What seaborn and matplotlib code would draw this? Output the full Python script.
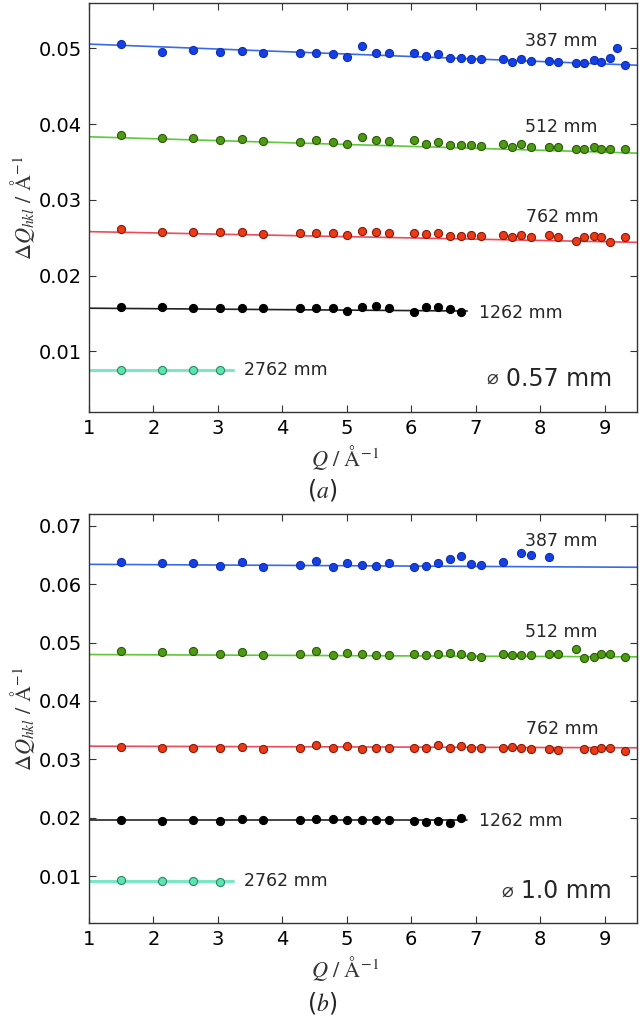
import matplotlib
matplotlib.use("Agg")
import matplotlib.pyplot as plt
import numpy as np
import pandas as pd
import seaborn as sns

# reflection positions, Q in 1/Angstrom
q_all = [1.50, 2.14, 2.62, 3.03, 3.38, 3.70, 4.28, 4.53, 4.79, 5.01, 5.24, 5.45, 5.66,
         6.05, 6.23, 6.42, 6.60, 6.77, 6.93, 7.09, 7.42, 7.57, 7.71, 7.86, 8.14, 8.28,
         8.56, 8.68, 8.83, 8.95, 9.08, 9.20, 9.32]
nan = np.nan
distances = ["387 mm", "512 mm", "762 mm", "1262 mm", "2762 mm"]

# (a) pinhole 0.57 mm
dq_a_387 = [0.05062, 0.04956, 0.04978, 0.04956, 0.04969, 0.04943, 0.04943, 0.04943, 0.04925,
            0.04881, 0.05031, 0.04943, 0.04943, 0.04943, 0.04903, 0.04925, 0.04868, 0.04868,
            0.04859, 0.04859, 0.04859, 0.04824, 0.04859, 0.04837, 0.04837, 0.04815, 0.04802,
            0.04802, 0.04846, 0.04824, 0.04868, 0.05009, 0.04780]
dq_a_512 = [0.03855, 0.03811, 0.03811, 0.03789, 0.03802, 0.03771, 0.03767, 0.03789, 0.03767,
            0.03744, 0.03833, 0.03789, 0.03780, 0.03789, 0.03736, 0.03758, 0.03722, 0.03722,
            0.03722, 0.03714, 0.03736, 0.03692, 0.03736, 0.03700, 0.03700, 0.03700, 0.03670,
            0.03678, 0.03700, 0.03678, 0.03670, nan, 0.03670]
dq_a_762 = [0.02617, 0.02573, 0.02573, 0.02581, 0.02573, 0.02555, 0.02564, 0.02564, 0.02564,
            0.02542, 0.02595, 0.02581, 0.02564, 0.02564, 0.02555, 0.02564, 0.02529, 0.02529,
            0.02542, 0.02520, 0.02537, 0.02511, 0.02542, 0.02507, 0.02533, 0.02507, 0.02454,
            0.02511, 0.02520, 0.02511, 0.02445, nan, 0.02511]
dq_a_1262 = [0.01581, 0.01581, 0.01568, 0.01568, 0.01568, 0.01568, 0.01568, 0.01568, 0.01568,
             0.01537, 0.01590, 0.01599, 0.01568, 0.01524, 0.01590, 0.01590, 0.01559, 0.01524]
dq_a_2762 = [0.00760, 0.00760, 0.00750, 0.00755]

fit_a_start = [0.05057, 0.03833, 0.02581, 0.01570, 0.00759]
fit_a_end = [0.04775, 0.03615, 0.02438, 0.01533, 0.00759]

label_a_y = [0.05100, 0.03965, 0.02771, 0.01510, 0.00754]

# (b) pinhole 1.0 mm
dq_b_387 = [0.06384, 0.06367, 0.06355, 0.06315, 0.06384, 0.06287, 0.06327, 0.06395, 0.06287,
            0.06355, 0.06327, 0.06315, 0.06355, 0.06298, 0.06315, 0.06355, 0.06430, 0.06487,
            0.06344, 0.06327, 0.06384, nan, 0.06527, 0.06499, 0.06470]
dq_b_512 = [0.04851, 0.04840, 0.04851, 0.04799, 0.04840, 0.04782, 0.04799, 0.04851, 0.04782,
            0.04828, 0.04811, 0.04782, 0.04782, 0.04811, 0.04782, 0.04799, 0.04828, 0.04811,
            0.04771, 0.04754, 0.04811, 0.04782, 0.04782, 0.04782, 0.04799, 0.04811, 0.04885,
            0.04742, 0.04754, 0.04799, 0.04799, nan, 0.04754]
dq_b_762 = [0.03215, 0.03198, 0.03198, 0.03203, 0.03215, 0.03175, 0.03198, 0.03243, 0.03198,
            0.03232, 0.03175, 0.03203, 0.03198, 0.03203, 0.03203, 0.03243, 0.03198, 0.03232,
            0.03203, 0.03203, 0.03203, 0.03215, 0.03203, 0.03175, 0.03175, 0.03158, nan,
            0.03175, 0.03158, 0.03186, 0.03198, nan, 0.03147]
dq_b_1262 = [0.01966, 0.01938, 0.01960, 0.01938, 0.01977, 0.01966, 0.01960, 0.01977, 0.01977,
             0.01966, 0.01960, 0.01955, 0.01960, 0.01938, 0.01921, 0.01949, 0.01910, 0.01994]
dq_b_2762 = [0.00930, 0.00920, 0.00924, 0.00895]

fit_b_start = [0.06338, 0.04794, 0.03226, 0.01960, 0.00924]
fit_b_end = [0.06287, 0.04754, 0.03198, 0.01960, 0.00924]

label_b_y = [0.06742, 0.05172, 0.03514, 0.01950, 0.00913]

fit_q_end = [9.6, 9.6, 9.6, 6.87, 3.23]
label_q = [7.77, 7.77, 7.78, 7.05, 3.40]

face_colors = ["#1440e6", "#4f9a14", "#ea3a17", "#000000", "#5de3b0"]
edge_colors = ["#1030b0", "#2a5a08", "#8a1a08", "#000000", "#2a8a60"]
line_colors = ["#3a6ae6", "#5cc83a", "#ee4a5a", "#222222", "#7ae8c4"]
line_widths = [1.2, 1.2, 1.2, 1.2, 2.2]


def draw_panel(ax, series, fit_start, fit_end, label_y, ylim, yticks, pinhole, pin_q, pin_y):
    for i, vals in enumerate(series):
        sns.lineplot(x=[1.0, fit_q_end[i]], y=[fit_start[i], fit_end[i]], color=line_colors[i],
                     lw=line_widths[i], ax=ax, zorder=2)
        df = pd.DataFrame({"Q": q_all[:len(vals)], "dQ": vals}).dropna()
        sns.scatterplot(data=df, x="Q", y="dQ", color=face_colors[i], edgecolor=edge_colors[i],
                        s=34, linewidth=0.8, ax=ax, zorder=3)
        ax.text(label_q[i], label_y[i], distances[i], fontsize=12.5, va="center", ha="left")
    # pinhole diameter note
    ax.text(pin_q, pin_y, "\u2300", fontsize=14, va="center", ha="center", color="#333333")
    ax.text(pin_q + 0.21, pin_y, pinhole, fontsize=17, va="center", ha="left")
    ax.set_xlim(1, 9.5)
    ax.set_ylim(*ylim)
    ax.set_xticks(range(1, 10))
    ax.set_yticks(yticks)
    ax.set_yticklabels([f"{v:.2f}" for v in yticks])
    ax.tick_params(direction="in", top=True, right=True, length=5, width=0.8,
                   labelsize=14, colors="#333333", labelcolor="black", pad=5)
    for sp in ax.spines.values():
        sp.set_color("#333333")
        sp.set_linewidth(1.0)
    ax.set_xlabel(r"$Q\ /\ \mathrm{\AA}^{-1}$", fontsize=16, color="#333333")
    ax.set_ylabel(r"$\Delta Q_{hkl}\ /\ \mathrm{\AA}^{-1}$", fontsize=16, color="#333333")
    ax.xaxis.set_label_coords(0.467, -0.075)
    ax.yaxis.set_label_coords(-0.095, 0.5)


sns.set_theme(style="ticks")
plt.rcParams["font.family"] = ["DejaVu Sans"]
plt.rcParams["mathtext.fontset"] = "stix"

fig = plt.figure(figsize=(6.4, 10.22), dpi=100)
ax_a = fig.add_axes([0.139, 0.5969, 0.856, 0.4002])
ax_b = fig.add_axes([0.139, 0.0969, 0.856, 0.4002])

draw_panel(ax_a, [dq_a_387, dq_a_512, dq_a_762, dq_a_1262, dq_a_2762],
           fit_a_start, fit_a_end, label_a_y, (0.002, 0.056),
           [0.01, 0.02, 0.03, 0.04, 0.05], "0.57 mm", 7.26, 0.0064)
draw_panel(ax_b, [dq_b_387, dq_b_512, dq_b_762, dq_b_1262, dq_b_2762],
           fit_b_start, fit_b_end, label_b_y, (0.002, 0.072),
           [0.01, 0.02, 0.03, 0.04, 0.05, 0.06, 0.07], "1.0 mm", 7.49, 0.0075)

fig.text(0.503, 0.5205, r"($a$)", fontsize=17, ha="center", va="center")
fig.text(0.503, 0.0186, r"($b$)", fontsize=17, ha="center", va="center")

fig.savefig("out.png", dpi=100)
